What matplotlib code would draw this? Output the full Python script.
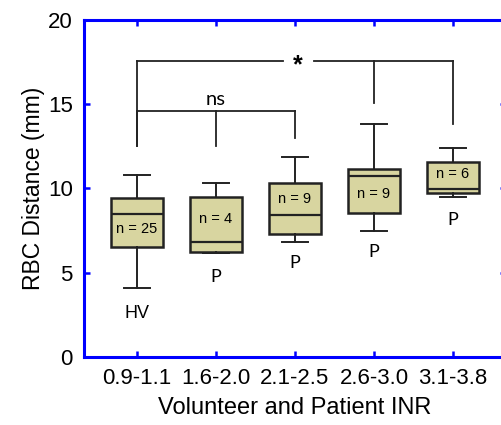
import matplotlib
matplotlib.use("Agg")
import matplotlib.pyplot as plt

# data
categories = ["0.9-1.1", "1.6-2.0", "2.1-2.5", "2.6-3.0", "3.1-3.8"]
whisk_lo = [4.1, 6.2, 6.85, 7.5, 9.47]
q1 = [6.55, 6.25, 7.3, 8.53, 9.75]
med = [8.49, 6.85, 8.43, 10.76, 9.99]
q3 = [9.45, 9.5, 10.35, 11.14, 11.55]
whisk_hi = [10.8, 10.3, 11.85, 13.8, 12.42]
n_labels = ["n = 25", "n = 4", "n = 9", "n = 9", "n = 6"]
n_y = [7.6, 8.2, 9.4, 9.65, 10.84]
group_labels = ["HV", "P", "P", "P", "P"]
group_y = [2.6, 4.76, 5.6, 6.25, 8.13]

# significance brackets
star_y = 17.57
star_drops = [12.52, None, None, 15.05, 13.8]
ns_y = 14.6
ns_drops = [12.52, 12.5, 12.98]

plt.rcParams['font.family'] = ['Liberation Sans', 'DejaVu Sans']

fig = plt.figure(figsize=(5.02, 4.25), dpi=100)
ax = fig.add_axes([0.1673, 0.16, 0.8406, 0.793])

pos = list(range(1, len(categories) + 1))
stats = []
for i in range(len(categories)):
    stats.append(dict(whislo=whisk_lo[i], q1=q1[i], med=med[i], q3=q3[i],
                      whishi=whisk_hi[i], fliers=[]))

ax.bxp(stats, positions=pos, widths=0.66, patch_artist=True, showfliers=False,
       boxprops=dict(facecolor='#d8d5a0', edgecolor='#222222', linewidth=1.8),
       medianprops=dict(color='#222222', linewidth=1.6),
       whiskerprops=dict(color='#222222', linewidth=1.4),
       capprops=dict(color='#222222', linewidth=1.4),
       capwidths=0.32)

for i in range(len(categories)):
    ax.text(pos[i], n_y[i], n_labels[i], ha='center', va='center', fontsize=10.5)
    fam = ['Liberation Sans'] if group_labels[i] == 'HV' else ['Lato', 'DejaVu Sans']
    ax.text(pos[i], group_y[i], group_labels[i], ha='center', va='center',
            fontsize=13, family=fam)

# "*" bracket
lc = '#222222'
ax.plot([1, 2.85], [star_y, star_y], color=lc, lw=1.3)
ax.plot([3.24, 5], [star_y, star_y], color=lc, lw=1.3)
for i, d in enumerate(star_drops):
    if d is not None:
        ax.plot([pos[i], pos[i]], [star_y, d], color=lc, lw=1.3)
ax.text(3.04, 17.3, "*", ha='center', va='center', fontsize=18, fontweight='bold')

# "ns" bracket
ax.plot([1, 3], [ns_y, ns_y], color=lc, lw=1.3)
for i, d in enumerate(ns_drops):
    ax.plot([pos[i], pos[i]], [ns_y, d], color=lc, lw=1.3)
ax.text(2, 15.3, "ns", ha='center', va='center', fontsize=14.5, family=['Lato', 'DejaVu Sans'])

ax.set_xlim(0.33, 5.67)
ax.set_ylim(0, 20)
ax.set_yticks([0, 5, 10, 15, 20])
ax.set_xticks(pos)
ax.set_xticklabels(categories)

for s in ax.spines.values():
    s.set_color('#0000ff')
    s.set_linewidth(2.2)

ax.tick_params(direction='in', length=4, width=1.8, color='#0000ff',
               labelsize=16, top=True, right=True, pad=8)

ax.set_xlabel("Volunteer and Patient INR", fontsize=17, labelpad=6)
ax.set_ylabel("RBC Distance (mm)", fontsize=16.5, labelpad=2)

fig.savefig("out.png", dpi=100)
